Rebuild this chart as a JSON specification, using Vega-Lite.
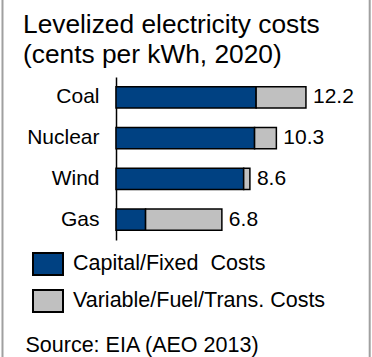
{
  "$schema": "https://vega.github.io/schema/vega-lite/v6.json",
  "width": 372,
  "height": 357,
  "autosize": "none",
  "padding": 0,
  "background": "white",
  "config": {
    "view": {"stroke": null},
    "font": "Liberation Sans",
    "axisY": {"offset": -116, "ticks": false, "grid": false, "labelFontSize": 21, "labelPadding": 17, "labelColor": "black", "labelFont": "Liberation Sans", "domainColor": "black", "domainWidth": 1.5, "title": null},
    "axisX": {"labels": false, "ticks": false, "domain": false, "grid": false, "titleFontSize": 21.5, "titleFontWeight": "normal", "titleColor": "black", "titleFont": "Liberation Sans", "titleAnchor": "start", "titleAlign": "left", "titleBaseline": "alphabetic", "titleX": 25, "titleY": -5.5}
  },
  "title": {
    "text": ["Levelized electricity costs", "(cents per kWh, 2020)"],
    "anchor": "start",
    "frame": "group",
    "orient": "top",
    "baseline": "top",
    "offset": -65,
    "dx": 23,
    "dy": 4,
    "fontSize": 26.3,
    "fontWeight": "normal",
    "color": "black",
    "font": "Liberation Sans",
    "lineHeight": 30
  },
  "datasets": {
    "costs": [
      {"source": "Coal", "type": "Capital/Fixed\u00a0 Costs", "cost": 9.0},
      {"source": "Coal", "type": "Variable/Fuel/Trans. Costs", "cost": 3.2},
      {"source": "Nuclear", "type": "Capital/Fixed\u00a0 Costs", "cost": 8.9},
      {"source": "Nuclear", "type": "Variable/Fuel/Trans. Costs", "cost": 1.4},
      {"source": "Wind", "type": "Capital/Fixed\u00a0 Costs", "cost": 8.2},
      {"source": "Wind", "type": "Variable/Fuel/Trans. Costs", "cost": 0.4},
      {"source": "Gas", "type": "Capital/Fixed\u00a0 Costs", "cost": 1.9},
      {"source": "Gas", "type": "Variable/Fuel/Trans. Costs", "cost": 4.9}
    ],
    "totals": [
      {"source": "Coal", "total": 12.2},
      {"source": "Nuclear", "total": 10.3},
      {"source": "Wind", "total": 8.6},
      {"source": "Gas", "total": 6.8}
    ]
  },
  "layer": [
    {
      "data": {"name": "costs"},
      "mark": {"type": "bar", "stroke": "black", "strokeWidth": 1.5},
      "encoding": {
        "y": {"field": "source", "type": "nominal", "title": null,
              "scale": {"domain": ["Coal", "Nuclear", "Wind", "Gas"], "range": [77, 240], "paddingInner": 0.48, "paddingOuter": 0.24}},
        "x": {"field": "cost", "type": "quantitative", "stack": "zero", "title": "Source: EIA (AEO 2013)",
              "scale": {"domain": [-7.45, 16.442], "nice": false, "zero": false}},
        "color": {"field": "type", "type": "nominal",
                  "scale": {"domain": ["Capital/Fixed\u00a0 Costs", "Variable/Fuel/Trans. Costs"], "range": ["#004182", "#c0c0c0"]},
                  "legend": {"orient": "none", "legendX": 32, "legendY": 248, "title": null, "padding": 0,
                             "symbolType": "M-1,-0.733L1,-0.733L1,0.733L-1,0.733Z", "symbolSize": 900,
                             "symbolStrokeColor": "black", "symbolStrokeWidth": 2, "symbolOpacity": 1,
                             "labelFontSize": 21.5, "labelFont": "Liberation Sans", "labelColor": "black",
                             "labelOffset": 9, "rowPadding": 6, "labelLimit": 400}},
        "order": {"field": "type", "sort": "ascending"}
      }
    },
    {
      "data": {"name": "totals"},
      "mark": {"type": "text", "align": "left", "baseline": "middle", "dx": 7, "fontSize": 21, "color": "black", "font": "Liberation Sans"},
      "encoding": {
        "y": {"field": "source", "type": "nominal", "title": null},
        "x": {"field": "total", "type": "quantitative", "title": "Source: EIA (AEO 2013)"},
        "text": {"field": "total", "type": "quantitative", "format": ".1f"}
      }
    },
    {
      "data": {"values": [{"edge": "left"}]},
      "mark": {"type": "rule", "color": "#a0a0a0", "strokeWidth": 2},
      "encoding": {"x": {"datum": -7.29}}
    },
    {
      "data": {"values": [{"edge": "right"}]},
      "mark": {"type": "rule", "color": "#a0a0a0", "strokeWidth": 2},
      "encoding": {"x": {"datum": 16.294}}
    }
  ]
}
